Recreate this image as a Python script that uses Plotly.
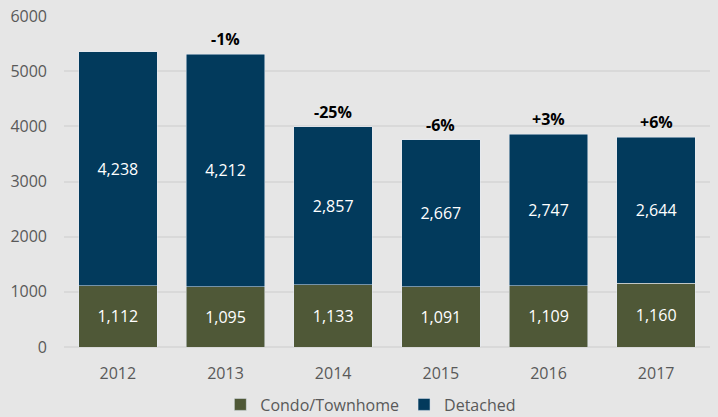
import plotly.graph_objects as go

years = ["2012", "2013", "2014", "2015", "2016", "2017"]
condo = [1112, 1095, 1133, 1091, 1109, 1160]
detached = [4238, 4212, 2857, 2667, 2747, 2644]
pct_labels = ["", "-1%", "-25%", "-6%", "+3%", "+6%"]

FONT = "Open Sans"
FS = 16
fig = go.Figure()
fig.add_bar(x=years, y=condo, name="Condo/Townhome", marker_color="#4f5837",
            text=[f"{v:,}" for v in condo], textposition="inside", insidetextanchor="middle",
            textfont=dict(color="white", size=FS, family=FONT))
fig.add_bar(x=years, y=detached, name="Detached", marker_color="#023a5c",
            text=[f"{v:,}" for v in detached], textposition="inside", insidetextanchor="middle",
            textfont=dict(color="white", size=FS, family=FONT))

for i, (c, d, lab) in enumerate(zip(condo, detached, pct_labels)):
    if lab:
        fig.add_annotation(x=i, y=c + d, xref="x", yref="y", text=f"<b>{lab}</b>", showarrow=False,
                           yanchor="bottom", yshift=2, font=dict(size=FS, color="black", family=FONT))

fig.update_layout(
    barmode="stack", bargap=0.27,
    width=718, height=417,
    margin=dict(l=64, r=8, t=16, b=70, autoexpand=False),
    paper_bgcolor="#e6e6e6", plot_bgcolor="#e6e6e6",
    font=dict(family=FONT, color="#595959", size=FS),
    legend=dict(orientation="h", x=0.475, xanchor="center", xref="paper",
                y=0.03, yanchor="middle", yref="container",
                font=dict(size=FS, color="#595959"), traceorder="normal"),
    xaxis=dict(type="category", range=[-0.5, 5.5], showgrid=False, ticks="",
               tickfont=dict(size=FS), ticklabelstandoff=15),
    yaxis=dict(range=[0, 6000], dtick=1000, gridcolor="#d9d9d9", gridwidth=1.5,
               zeroline=True, zerolinecolor="#d9d9d9", zerolinewidth=1.5,
               tickfont=dict(size=FS), ticklabelstandoff=16),
    uniformtext=dict(minsize=FS, mode="show"),
)
fig.write_html("out.html", config={"displayModeBar": False},
               post_script="document.body.style.margin='0';document.body.style.background='#e6e6e6';")
